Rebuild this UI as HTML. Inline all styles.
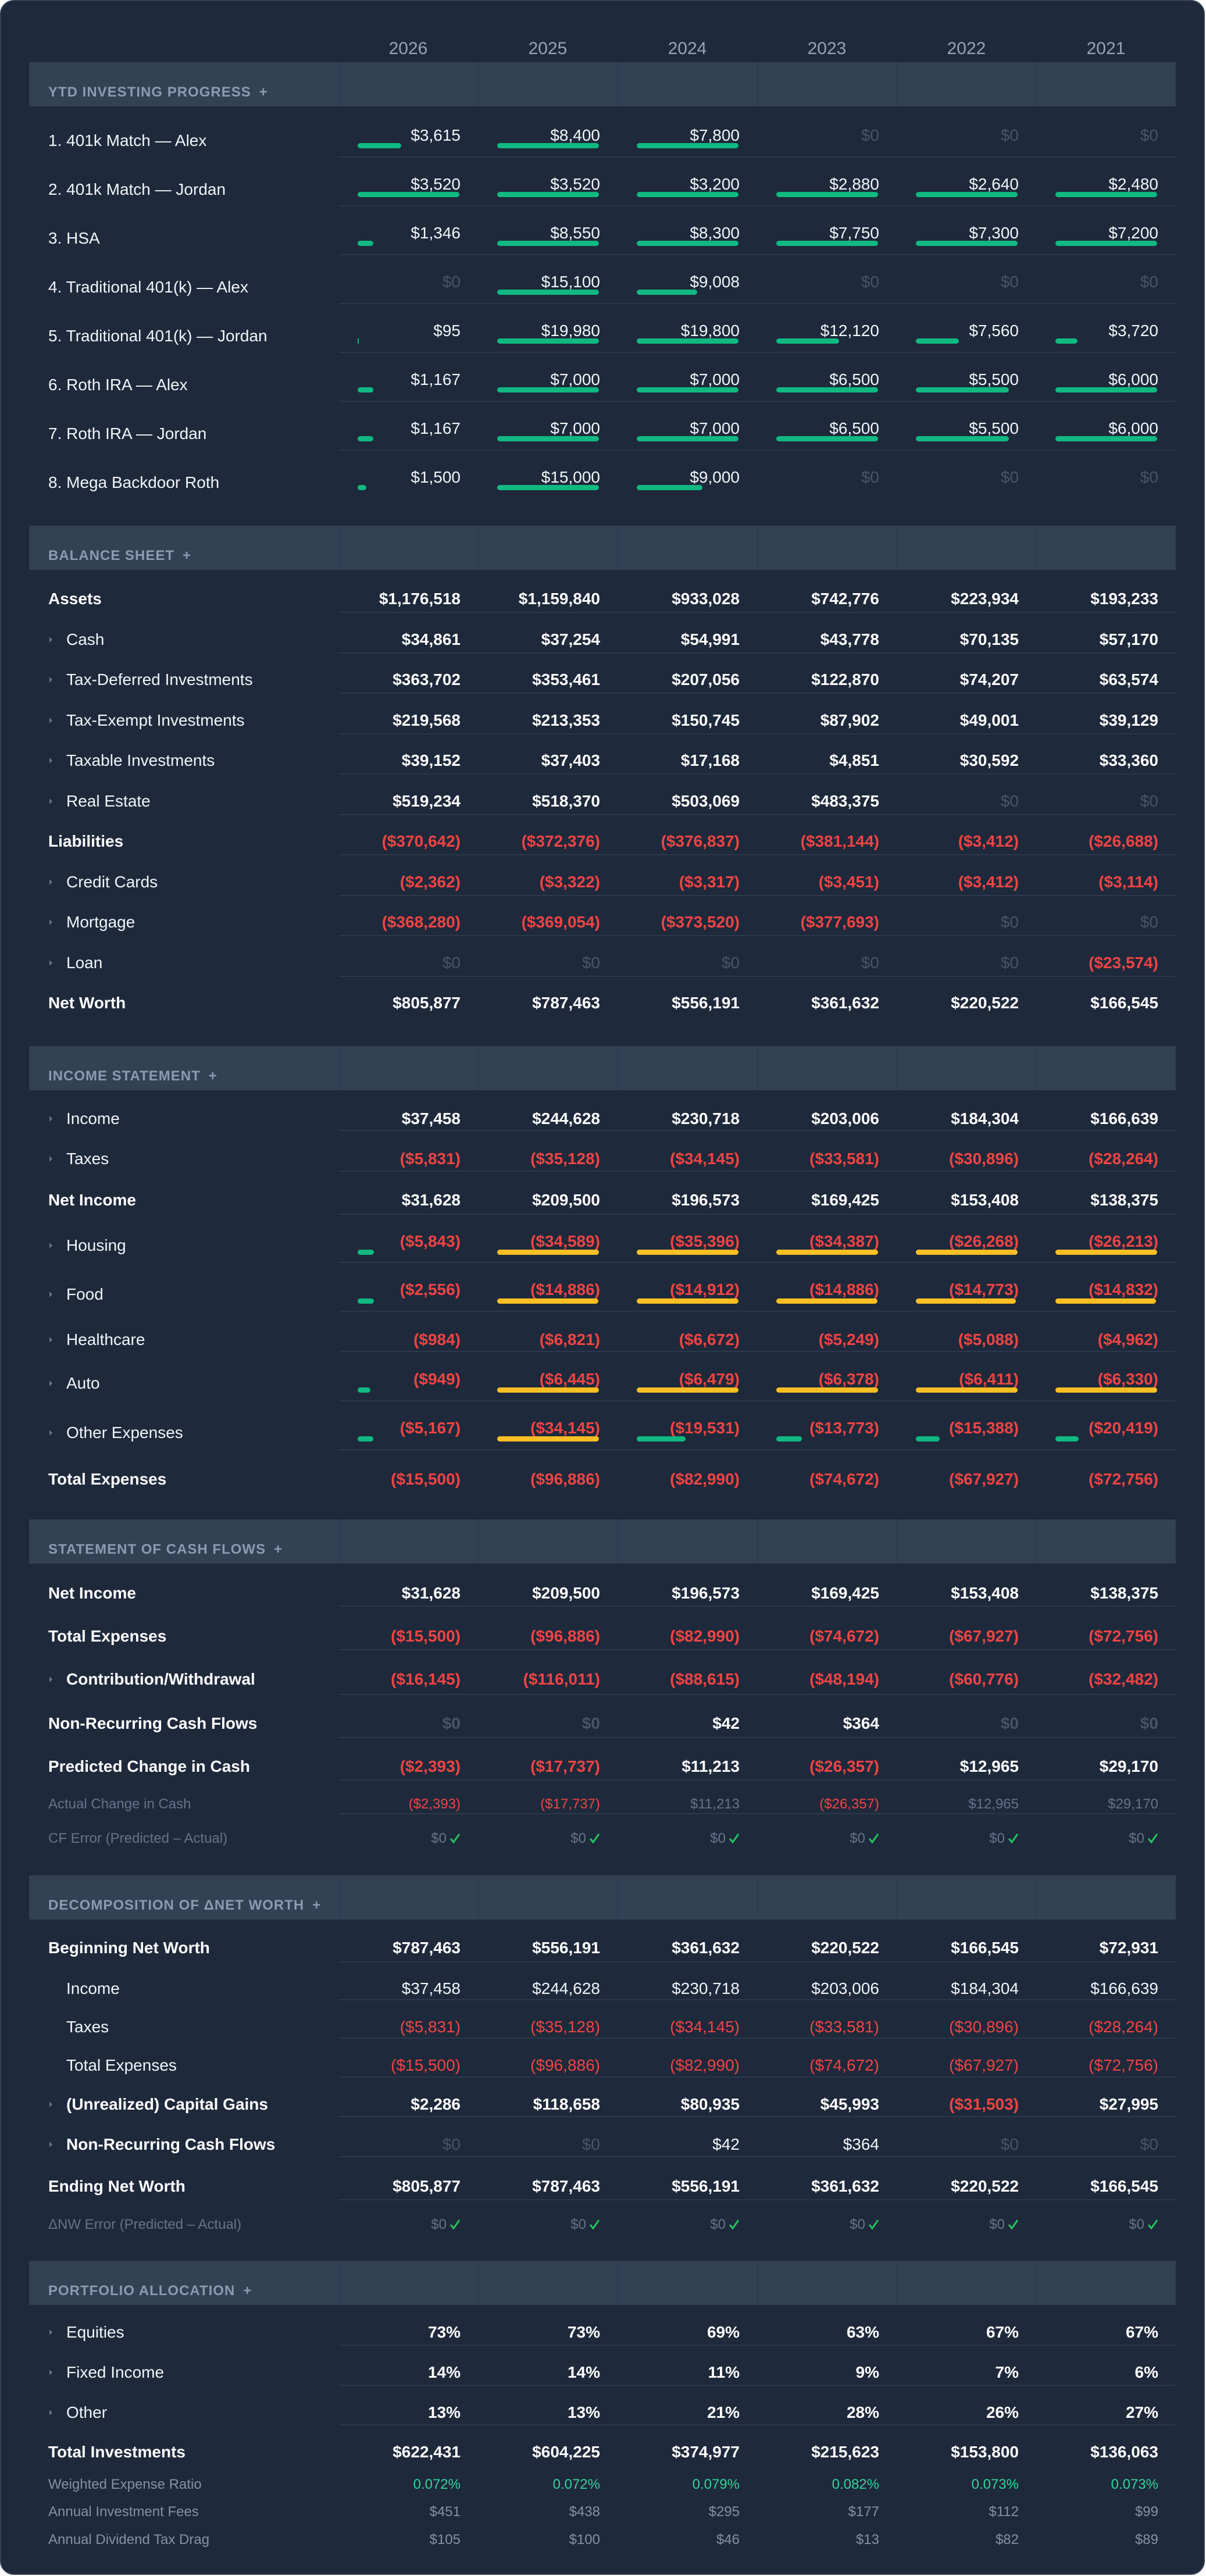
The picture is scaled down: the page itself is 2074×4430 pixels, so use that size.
<!DOCTYPE html>
<html><head><meta charset="utf-8">
<style>
html,body{margin:0;padding:0}
body{width:2074px;height:4430px;position:relative;overflow:hidden;background:#ffffff;font-family:"Liberation Sans","DejaVu Sans",sans-serif}
.card{position:absolute;left:0;top:0;width:2068px;height:4424px;background:#1e293b;border:2px solid #334155;border-radius:24px}
.r{position:absolute;left:0;width:2074px;height:40px;line-height:40px;font-size:28px;color:#f1f5f9;white-space:nowrap}
.r span{position:absolute;top:0}
.l{left:83px}
.li{left:114px}
.ch{position:absolute;left:84px;top:14px}
.v{width:210px;text-align:right}
.c1{left:582px}.c2{left:822px}.c3{left:1062px}.c4{left:1302px}.c5{left:1542px}.c6{left:1782px}
.b{font-weight:700;color:#ffffff}
.red{color:#ef4444}
.dim{color:#475569}
.sm{font-size:24px}
.gl{color:#64748b}
.gl2{color:#8391a7}
.grn{color:#34d399}
.yr{width:240px;text-align:center;font-size:30px;color:#94a3b8}
.bar{position:absolute;height:9px;border-radius:5px}
.g{background:#10b981}
.o{background:#fbbf24}
.sep{position:absolute;left:582px;width:1440px;height:2px;background:#2c384b}
.band{position:absolute;left:50px;width:1972px;height:76px;background:#334155}
.bd{position:absolute;top:0;width:2px;height:76px;background:#2e3b50}
.tt{position:absolute;left:83px;height:40px;line-height:40px;font-size:24px;font-weight:700;letter-spacing:1px;color:#8d9bb0;white-space:nowrap}
.tt i{font-style:normal;margin-left:14px}
.ck{vertical-align:middle;margin-left:4px;position:relative;top:-2px}
</style></head><body>
<div class="card"></div>

<!-- Year header -->
<div class="r" style="top:64px"><span class="yr c1">2026</span><span class="yr c2">2025</span><span class="yr c3">2024</span><span class="yr c4">2023</span><span class="yr c5">2022</span><span class="yr c6">2021</span></div>

<!-- ============ YTD INVESTING PROGRESS ============ -->
<div class="band" style="top:107px"><div class="bd" style="left:532px"></div><div class="bd" style="left:772px"></div><div class="bd" style="left:1012px"></div><div class="bd" style="left:1252px"></div><div class="bd" style="left:1492px"></div><div class="bd" style="left:1732px"></div></div>
<div class="tt" style="top:139px">YTD INVESTING PROGRESS<i>+</i></div>

<div class="r" style="top:222px"><span class="l">1. 401k Match — Alex</span></div>
<div class="r" style="top:213px"><span class="v c1">$3,615</span><span class="v c2">$8,400</span><span class="v c3">$7,800</span><span class="v c4 dim">$0</span><span class="v c5 dim">$0</span><span class="v c6 dim">$0</span></div>
<div class="bar g" style="top:246px;left:615px;width:75px"></div><div class="bar g" style="top:246px;left:855px;width:175px"></div><div class="bar g" style="top:246px;left:1095px;width:175px"></div>
<div class="sep" style="top:269px"></div>

<div class="r" style="top:306px"><span class="l">2. 401k Match — Jordan</span></div>
<div class="r" style="top:297px"><span class="v c1">$3,520</span><span class="v c2">$3,520</span><span class="v c3">$3,200</span><span class="v c4">$2,880</span><span class="v c5">$2,640</span><span class="v c6">$2,480</span></div>
<div class="bar g" style="top:330px;left:615px;width:175px"></div><div class="bar g" style="top:330px;left:855px;width:175px"></div><div class="bar g" style="top:330px;left:1095px;width:175px"></div><div class="bar g" style="top:330px;left:1335px;width:175px"></div><div class="bar g" style="top:330px;left:1575px;width:175px"></div><div class="bar g" style="top:330px;left:1815px;width:175px"></div>
<div class="sep" style="top:353px"></div>

<div class="r" style="top:390px"><span class="l">3. HSA</span></div>
<div class="r" style="top:381px"><span class="v c1">$1,346</span><span class="v c2">$8,550</span><span class="v c3">$8,300</span><span class="v c4">$7,750</span><span class="v c5">$7,300</span><span class="v c6">$7,200</span></div>
<div class="bar g" style="top:414px;left:615px;width:27px"></div><div class="bar g" style="top:414px;left:855px;width:175px"></div><div class="bar g" style="top:414px;left:1095px;width:175px"></div><div class="bar g" style="top:414px;left:1335px;width:175px"></div><div class="bar g" style="top:414px;left:1575px;width:175px"></div><div class="bar g" style="top:414px;left:1815px;width:175px"></div>
<div class="sep" style="top:437px"></div>

<div class="r" style="top:474px"><span class="l">4. Traditional 401(k) — Alex</span></div>
<div class="r" style="top:465px"><span class="v c1 dim">$0</span><span class="v c2">$15,100</span><span class="v c3">$9,008</span><span class="v c4 dim">$0</span><span class="v c5 dim">$0</span><span class="v c6 dim">$0</span></div>
<div class="bar g" style="top:498px;left:855px;width:175px"></div><div class="bar g" style="top:498px;left:1095px;width:104px"></div>
<div class="sep" style="top:521px"></div>

<div class="r" style="top:558px"><span class="l">5. Traditional 401(k) — Jordan</span></div>
<div class="r" style="top:549px"><span class="v c1">$95</span><span class="v c2">$19,980</span><span class="v c3">$19,800</span><span class="v c4">$12,120</span><span class="v c5">$7,560</span><span class="v c6">$3,720</span></div>
<div class="bar g" style="top:582px;left:615px;width:2px;border-radius:1px"></div><div class="bar g" style="top:582px;left:855px;width:175px"></div><div class="bar g" style="top:582px;left:1095px;width:175px"></div><div class="bar g" style="top:582px;left:1335px;width:108px"></div><div class="bar g" style="top:582px;left:1575px;width:74px"></div><div class="bar g" style="top:582px;left:1815px;width:38px"></div>
<div class="sep" style="top:605px"></div>

<div class="r" style="top:642px"><span class="l">6. Roth IRA — Alex</span></div>
<div class="r" style="top:633px"><span class="v c1">$1,167</span><span class="v c2">$7,000</span><span class="v c3">$7,000</span><span class="v c4">$6,500</span><span class="v c5">$5,500</span><span class="v c6">$6,000</span></div>
<div class="bar g" style="top:666px;left:615px;width:27px"></div><div class="bar g" style="top:666px;left:855px;width:175px"></div><div class="bar g" style="top:666px;left:1095px;width:175px"></div><div class="bar g" style="top:666px;left:1335px;width:175px"></div><div class="bar g" style="top:666px;left:1575px;width:160px"></div><div class="bar g" style="top:666px;left:1815px;width:175px"></div>
<div class="sep" style="top:689px"></div>

<div class="r" style="top:726px"><span class="l">7. Roth IRA — Jordan</span></div>
<div class="r" style="top:717px"><span class="v c1">$1,167</span><span class="v c2">$7,000</span><span class="v c3">$7,000</span><span class="v c4">$6,500</span><span class="v c5">$5,500</span><span class="v c6">$6,000</span></div>
<div class="bar g" style="top:750px;left:615px;width:27px"></div><div class="bar g" style="top:750px;left:855px;width:175px"></div><div class="bar g" style="top:750px;left:1095px;width:175px"></div><div class="bar g" style="top:750px;left:1335px;width:175px"></div><div class="bar g" style="top:750px;left:1575px;width:160px"></div><div class="bar g" style="top:750px;left:1815px;width:175px"></div>
<div class="sep" style="top:773px"></div>

<div class="r" style="top:810px"><span class="l">8. Mega Backdoor Roth</span></div>
<div class="r" style="top:801px"><span class="v c1">$1,500</span><span class="v c2">$15,000</span><span class="v c3">$9,000</span><span class="v c4 dim">$0</span><span class="v c5 dim">$0</span><span class="v c6 dim">$0</span></div>
<div class="bar g" style="top:834px;left:615px;width:15px"></div><div class="bar g" style="top:834px;left:855px;width:175px"></div><div class="bar g" style="top:834px;left:1095px;width:113px"></div>

<!-- ============ BALANCE SHEET ============ -->
<div class="band" style="top:904px"><div class="bd" style="left:532px"></div><div class="bd" style="left:772px"></div><div class="bd" style="left:1012px"></div><div class="bd" style="left:1252px"></div><div class="bd" style="left:1492px"></div><div class="bd" style="left:1732px"></div></div>
<div class="tt" style="top:936px">BALANCE SHEET<i>+</i></div>

<div class="r b" style="top:1010px"><span class="l">Assets</span><span class="v c1">$1,176,518</span><span class="v c2">$1,159,840</span><span class="v c3">$933,028</span><span class="v c4">$742,776</span><span class="v c5">$223,934</span><span class="v c6">$193,233</span></div>
<div class="sep" style="top:1052px"></div>
<div class="r" style="top:1080px"><svg class="ch" width="7" height="12" viewBox="0 0 7 12"><polygon points="1,1 6,6 1,11" fill="#64748b"/></svg><span class="li">Cash</span><span class="v c1 b">$34,861</span><span class="v c2 b">$37,254</span><span class="v c3 b">$54,991</span><span class="v c4 b">$43,778</span><span class="v c5 b">$70,135</span><span class="v c6 b">$57,170</span></div>
<div class="sep" style="top:1122px"></div>
<div class="r" style="top:1149px"><svg class="ch" width="7" height="12" viewBox="0 0 7 12"><polygon points="1,1 6,6 1,11" fill="#64748b"/></svg><span class="li">Tax-Deferred Investments</span><span class="v c1 b">$363,702</span><span class="v c2 b">$353,461</span><span class="v c3 b">$207,056</span><span class="v c4 b">$122,870</span><span class="v c5 b">$74,207</span><span class="v c6 b">$63,574</span></div>
<div class="sep" style="top:1191px"></div>
<div class="r" style="top:1219px"><svg class="ch" width="7" height="12" viewBox="0 0 7 12"><polygon points="1,1 6,6 1,11" fill="#64748b"/></svg><span class="li">Tax-Exempt Investments</span><span class="v c1 b">$219,568</span><span class="v c2 b">$213,353</span><span class="v c3 b">$150,745</span><span class="v c4 b">$87,902</span><span class="v c5 b">$49,001</span><span class="v c6 b">$39,129</span></div>
<div class="sep" style="top:1261px"></div>
<div class="r" style="top:1288px"><svg class="ch" width="7" height="12" viewBox="0 0 7 12"><polygon points="1,1 6,6 1,11" fill="#64748b"/></svg><span class="li">Taxable Investments</span><span class="v c1 b">$39,152</span><span class="v c2 b">$37,403</span><span class="v c3 b">$17,168</span><span class="v c4 b">$4,851</span><span class="v c5 b">$30,592</span><span class="v c6 b">$33,360</span></div>
<div class="sep" style="top:1330px"></div>
<div class="r" style="top:1358px"><svg class="ch" width="7" height="12" viewBox="0 0 7 12"><polygon points="1,1 6,6 1,11" fill="#64748b"/></svg><span class="li">Real Estate</span><span class="v c1 b">$519,234</span><span class="v c2 b">$518,370</span><span class="v c3 b">$503,069</span><span class="v c4 b">$483,375</span><span class="v c5 dim">$0</span><span class="v c6 dim">$0</span></div>
<div class="sep" style="top:1400px"></div>
<div class="r" style="top:1427px"><span class="l b">Liabilities</span><span class="v c1 b red">($370,642)</span><span class="v c2 b red">($372,376)</span><span class="v c3 b red">($376,837)</span><span class="v c4 b red">($381,144)</span><span class="v c5 b red">($3,412)</span><span class="v c6 b red">($26,688)</span></div>
<div class="sep" style="top:1469px"></div>
<div class="r" style="top:1497px"><svg class="ch" width="7" height="12" viewBox="0 0 7 12"><polygon points="1,1 6,6 1,11" fill="#64748b"/></svg><span class="li">Credit Cards</span><span class="v c1 b red">($2,362)</span><span class="v c2 b red">($3,322)</span><span class="v c3 b red">($3,317)</span><span class="v c4 b red">($3,451)</span><span class="v c5 b red">($3,412)</span><span class="v c6 b red">($3,114)</span></div>
<div class="sep" style="top:1539px"></div>
<div class="r" style="top:1566px"><svg class="ch" width="7" height="12" viewBox="0 0 7 12"><polygon points="1,1 6,6 1,11" fill="#64748b"/></svg><span class="li">Mortgage</span><span class="v c1 b red">($368,280)</span><span class="v c2 b red">($369,054)</span><span class="v c3 b red">($373,520)</span><span class="v c4 b red">($377,693)</span><span class="v c5 dim">$0</span><span class="v c6 dim">$0</span></div>
<div class="sep" style="top:1608px"></div>
<div class="r" style="top:1636px"><svg class="ch" width="7" height="12" viewBox="0 0 7 12"><polygon points="1,1 6,6 1,11" fill="#64748b"/></svg><span class="li">Loan</span><span class="v c1 dim">$0</span><span class="v c2 dim">$0</span><span class="v c3 dim">$0</span><span class="v c4 dim">$0</span><span class="v c5 dim">$0</span><span class="v c6 b red">($23,574)</span></div>
<div class="sep" style="top:1678px"></div>
<div class="r b" style="top:1705px"><span class="l">Net Worth</span><span class="v c1">$805,877</span><span class="v c2">$787,463</span><span class="v c3">$556,191</span><span class="v c4">$361,632</span><span class="v c5">$220,522</span><span class="v c6">$166,545</span></div>

<!-- ============ INCOME STATEMENT ============ -->
<div class="band" style="top:1799px"><div class="bd" style="left:532px"></div><div class="bd" style="left:772px"></div><div class="bd" style="left:1012px"></div><div class="bd" style="left:1252px"></div><div class="bd" style="left:1492px"></div><div class="bd" style="left:1732px"></div></div>
<div class="tt" style="top:1831px">INCOME STATEMENT<i>+</i></div>

<div class="r" style="top:1904px"><svg class="ch" width="7" height="12" viewBox="0 0 7 12"><polygon points="1,1 6,6 1,11" fill="#64748b"/></svg><span class="li">Income</span><span class="v c1 b">$37,458</span><span class="v c2 b">$244,628</span><span class="v c3 b">$230,718</span><span class="v c4 b">$203,006</span><span class="v c5 b">$184,304</span><span class="v c6 b">$166,639</span></div>
<div class="sep" style="top:1943px"></div>
<div class="r" style="top:1973px"><svg class="ch" width="7" height="12" viewBox="0 0 7 12"><polygon points="1,1 6,6 1,11" fill="#64748b"/></svg><span class="li">Taxes</span><span class="v c1 b red">($5,831)</span><span class="v c2 b red">($35,128)</span><span class="v c3 b red">($34,145)</span><span class="v c4 b red">($33,581)</span><span class="v c5 b red">($30,896)</span><span class="v c6 b red">($28,264)</span></div>
<div class="sep" style="top:2013px"></div>
<div class="r b" style="top:2044px"><span class="l">Net Income</span><span class="v c1">$31,628</span><span class="v c2">$209,500</span><span class="v c3">$196,573</span><span class="v c4">$169,425</span><span class="v c5">$153,408</span><span class="v c6">$138,375</span></div>
<div class="sep" style="top:2087px"></div>

<div class="r" style="top:2122px"><svg class="ch" width="7" height="12" viewBox="0 0 7 12"><polygon points="1,1 6,6 1,11" fill="#64748b"/></svg><span class="li">Housing</span></div>
<div class="r b red" style="top:2115px"><span class="v c1">($5,843)</span><span class="v c2">($34,589)</span><span class="v c3">($35,396)</span><span class="v c4">($34,387)</span><span class="v c5">($26,268)</span><span class="v c6">($26,213)</span></div>
<div class="bar g" style="top:2149px;left:615px;width:28px"></div><div class="bar o" style="top:2149px;left:855px;width:175px"></div><div class="bar o" style="top:2149px;left:1095px;width:175px"></div><div class="bar o" style="top:2149px;left:1335px;width:175px"></div><div class="bar o" style="top:2149px;left:1575px;width:175px"></div><div class="bar o" style="top:2149px;left:1815px;width:175px"></div>
<div class="sep" style="top:2170px"></div>

<div class="r" style="top:2206px"><svg class="ch" width="7" height="12" viewBox="0 0 7 12"><polygon points="1,1 6,6 1,11" fill="#64748b"/></svg><span class="li">Food</span></div>
<div class="r b red" style="top:2198px"><span class="v c1">($2,556)</span><span class="v c2">($14,886)</span><span class="v c3">($14,912)</span><span class="v c4">($14,886)</span><span class="v c5">($14,773)</span><span class="v c6">($14,832)</span></div>
<div class="bar g" style="top:2233px;left:615px;width:28px"></div><div class="bar o" style="top:2233px;left:855px;width:174px"></div><div class="bar o" style="top:2233px;left:1095px;width:175px"></div><div class="bar o" style="top:2233px;left:1335px;width:174px"></div><div class="bar o" style="top:2233px;left:1575px;width:172px"></div><div class="bar o" style="top:2233px;left:1815px;width:173px"></div>
<div class="sep" style="top:2254px"></div>

<div class="r" style="top:2284px"><svg class="ch" width="7" height="12" viewBox="0 0 7 12"><polygon points="1,1 6,6 1,11" fill="#64748b"/></svg><span class="li">Healthcare</span><span class="v c1 b red">($984)</span><span class="v c2 b red">($6,821)</span><span class="v c3 b red">($6,672)</span><span class="v c4 b red">($5,249)</span><span class="v c5 b red">($5,088)</span><span class="v c6 b red">($4,962)</span></div>
<div class="sep" style="top:2323px"></div>

<div class="r" style="top:2359px"><svg class="ch" width="7" height="12" viewBox="0 0 7 12"><polygon points="1,1 6,6 1,11" fill="#64748b"/></svg><span class="li">Auto</span></div>
<div class="r b red" style="top:2352px"><span class="v c1">($949)</span><span class="v c2">($6,445)</span><span class="v c3">($6,479)</span><span class="v c4">($6,378)</span><span class="v c5">($6,411)</span><span class="v c6">($6,330)</span></div>
<div class="bar g" style="top:2386px;left:615px;width:22px"></div><div class="bar o" style="top:2386px;left:855px;width:175px"></div><div class="bar o" style="top:2386px;left:1095px;width:175px"></div><div class="bar o" style="top:2386px;left:1335px;width:175px"></div><div class="bar o" style="top:2386px;left:1575px;width:175px"></div><div class="bar o" style="top:2386px;left:1815px;width:175px"></div>
<div class="sep" style="top:2408px"></div>

<div class="r" style="top:2444px"><svg class="ch" width="7" height="12" viewBox="0 0 7 12"><polygon points="1,1 6,6 1,11" fill="#64748b"/></svg><span class="li">Other Expenses</span></div>
<div class="r b red" style="top:2436px"><span class="v c1">($5,167)</span><span class="v c2">($34,145)</span><span class="v c3">($19,531)</span><span class="v c4">($13,773)</span><span class="v c5">($15,388)</span><span class="v c6">($20,419)</span></div>
<div class="bar g" style="top:2470px;left:615px;width:27px"></div><div class="bar o" style="top:2470px;left:855px;width:175px"></div><div class="bar g" style="top:2470px;left:1095px;width:84px"></div><div class="bar g" style="top:2470px;left:1335px;width:44px"></div><div class="bar g" style="top:2470px;left:1575px;width:41px"></div><div class="bar g" style="top:2470px;left:1815px;width:40px"></div>
<div class="sep" style="top:2492px"></div>

<div class="r b" style="top:2524px"><span class="l">Total Expenses</span><span class="v c1 red">($15,500)</span><span class="v c2 red">($96,886)</span><span class="v c3 red">($82,990)</span><span class="v c4 red">($74,672)</span><span class="v c5 red">($67,927)</span><span class="v c6 red">($72,756)</span></div>

<!-- ============ STATEMENT OF CASH FLOWS ============ -->
<div class="band" style="top:2613px"><div class="bd" style="left:532px"></div><div class="bd" style="left:772px"></div><div class="bd" style="left:1012px"></div><div class="bd" style="left:1252px"></div><div class="bd" style="left:1492px"></div><div class="bd" style="left:1732px"></div></div>
<div class="tt" style="top:2645px">STATEMENT OF CASH FLOWS<i>+</i></div>

<div class="r b" style="top:2720px"><span class="l">Net Income</span><span class="v c1">$31,628</span><span class="v c2">$209,500</span><span class="v c3">$196,573</span><span class="v c4">$169,425</span><span class="v c5">$153,408</span><span class="v c6">$138,375</span></div>
<div class="sep" style="top:2761px"></div>
<div class="r b" style="top:2794px"><span class="l">Total Expenses</span><span class="v c1 red">($15,500)</span><span class="v c2 red">($96,886)</span><span class="v c3 red">($82,990)</span><span class="v c4 red">($74,672)</span><span class="v c5 red">($67,927)</span><span class="v c6 red">($72,756)</span></div>
<div class="sep" style="top:2836px"></div>
<div class="r b" style="top:2868px"><svg class="ch" width="7" height="12" viewBox="0 0 7 12"><polygon points="1,1 6,6 1,11" fill="#64748b"/></svg><span class="li">Contribution/Withdrawal</span><span class="v c1 red">($16,145)</span><span class="v c2 red">($116,011)</span><span class="v c3 red">($88,615)</span><span class="v c4 red">($48,194)</span><span class="v c5 red">($60,776)</span><span class="v c6 red">($32,482)</span></div>
<div class="sep" style="top:2913px"></div>
<div class="r b" style="top:2944px"><span class="l">Non-Recurring Cash Flows</span><span class="v c1 dim">$0</span><span class="v c2 dim">$0</span><span class="v c3">$42</span><span class="v c4">$364</span><span class="v c5 dim">$0</span><span class="v c6 dim">$0</span></div>
<div class="sep" style="top:2987px"></div>
<div class="r b" style="top:3018px"><span class="l">Predicted Change in Cash</span><span class="v c1 red">($2,393)</span><span class="v c2 red">($17,737)</span><span class="v c3">$11,213</span><span class="v c4 red">($26,357)</span><span class="v c5">$12,965</span><span class="v c6">$29,170</span></div>
<div class="sep" style="top:3060px"></div>
<div class="r sm" style="top:3083px"><span class="l gl">Actual Change in Cash</span><span class="v c1 red">($2,393)</span><span class="v c2 red">($17,737)</span><span class="v c3 gl">$11,213</span><span class="v c4 red">($26,357)</span><span class="v c5 gl">$12,965</span><span class="v c6 gl">$29,170</span></div>
<div class="sep" style="top:3118px"></div>
<div class="r sm" style="top:3142px"><span class="l gl">CF Error (Predicted – Actual)</span>
<span class="v c1 gl">$0<svg class="ck" width="20" height="20" viewBox="0 0 20 20"><polyline points="3,11 8,17 18,3" stroke="#22c55e" stroke-width="3" fill="none"/></svg></span>
<span class="v c2 gl">$0<svg class="ck" width="20" height="20" viewBox="0 0 20 20"><polyline points="3,11 8,17 18,3" stroke="#22c55e" stroke-width="3" fill="none"/></svg></span>
<span class="v c3 gl">$0<svg class="ck" width="20" height="20" viewBox="0 0 20 20"><polyline points="3,11 8,17 18,3" stroke="#22c55e" stroke-width="3" fill="none"/></svg></span>
<span class="v c4 gl">$0<svg class="ck" width="20" height="20" viewBox="0 0 20 20"><polyline points="3,11 8,17 18,3" stroke="#22c55e" stroke-width="3" fill="none"/></svg></span>
<span class="v c5 gl">$0<svg class="ck" width="20" height="20" viewBox="0 0 20 20"><polyline points="3,11 8,17 18,3" stroke="#22c55e" stroke-width="3" fill="none"/></svg></span>
<span class="v c6 gl">$0<svg class="ck" width="20" height="20" viewBox="0 0 20 20"><polyline points="3,11 8,17 18,3" stroke="#22c55e" stroke-width="3" fill="none"/></svg></span></div>

<!-- ============ DECOMPOSITION ============ -->
<div class="band" style="top:3225px"><div class="bd" style="left:532px"></div><div class="bd" style="left:772px"></div><div class="bd" style="left:1012px"></div><div class="bd" style="left:1252px"></div><div class="bd" style="left:1492px"></div><div class="bd" style="left:1732px"></div></div>
<div class="tt" style="top:3257px">DECOMPOSITION OF ΔNET WORTH<i>+</i></div>

<div class="r b" style="top:3330px"><span class="l">Beginning Net Worth</span><span class="v c1">$787,463</span><span class="v c2">$556,191</span><span class="v c3">$361,632</span><span class="v c4">$220,522</span><span class="v c5">$166,545</span><span class="v c6">$72,931</span></div>
<div class="sep" style="top:3373px"></div>
<div class="r" style="top:3400px"><span class="li">Income</span><span class="v c1">$37,458</span><span class="v c2">$244,628</span><span class="v c3">$230,718</span><span class="v c4">$203,006</span><span class="v c5">$184,304</span><span class="v c6">$166,639</span></div>
<div class="sep" style="top:3438px"></div>
<div class="r" style="top:3466px"><span class="li">Taxes</span><span class="v c1 red">($5,831)</span><span class="v c2 red">($35,128)</span><span class="v c3 red">($34,145)</span><span class="v c4 red">($33,581)</span><span class="v c5 red">($30,896)</span><span class="v c6 red">($28,264)</span></div>
<div class="sep" style="top:3504px"></div>
<div class="r" style="top:3532px"><span class="li">Total Expenses</span><span class="v c1 red">($15,500)</span><span class="v c2 red">($96,886)</span><span class="v c3 red">($82,990)</span><span class="v c4 red">($74,672)</span><span class="v c5 red">($67,927)</span><span class="v c6 red">($72,756)</span></div>
<div class="sep" style="top:3571px"></div>
<div class="r b" style="top:3599px"><svg class="ch" width="7" height="12" viewBox="0 0 7 12"><polygon points="1,1 6,6 1,11" fill="#64748b"/></svg><span class="li">(Unrealized) Capital Gains</span><span class="v c1">$2,286</span><span class="v c2">$118,658</span><span class="v c3">$80,935</span><span class="v c4">$45,993</span><span class="v c5 red">($31,503)</span><span class="v c6">$27,995</span></div>
<div class="sep" style="top:3639px"></div>
<div class="r" style="top:3668px"><svg class="ch" width="7" height="12" viewBox="0 0 7 12"><polygon points="1,1 6,6 1,11" fill="#64748b"/></svg><span class="li b">Non-Recurring Cash Flows</span><span class="v c1 dim">$0</span><span class="v c2 dim">$0</span><span class="v c3">$42</span><span class="v c4">$364</span><span class="v c5 dim">$0</span><span class="v c6 dim">$0</span></div>
<div class="sep" style="top:3708px"></div>
<div class="r b" style="top:3740px"><span class="l">Ending Net Worth</span><span class="v c1">$805,877</span><span class="v c2">$787,463</span><span class="v c3">$556,191</span><span class="v c4">$361,632</span><span class="v c5">$220,522</span><span class="v c6">$166,545</span></div>
<div class="sep" style="top:3782px"></div>
<div class="r sm" style="top:3806px"><span class="l gl">ΔNW Error (Predicted – Actual)</span>
<span class="v c1 gl">$0<svg class="ck" width="20" height="20" viewBox="0 0 20 20"><polyline points="3,11 8,17 18,3" stroke="#22c55e" stroke-width="3" fill="none"/></svg></span>
<span class="v c2 gl">$0<svg class="ck" width="20" height="20" viewBox="0 0 20 20"><polyline points="3,11 8,17 18,3" stroke="#22c55e" stroke-width="3" fill="none"/></svg></span>
<span class="v c3 gl">$0<svg class="ck" width="20" height="20" viewBox="0 0 20 20"><polyline points="3,11 8,17 18,3" stroke="#22c55e" stroke-width="3" fill="none"/></svg></span>
<span class="v c4 gl">$0<svg class="ck" width="20" height="20" viewBox="0 0 20 20"><polyline points="3,11 8,17 18,3" stroke="#22c55e" stroke-width="3" fill="none"/></svg></span>
<span class="v c5 gl">$0<svg class="ck" width="20" height="20" viewBox="0 0 20 20"><polyline points="3,11 8,17 18,3" stroke="#22c55e" stroke-width="3" fill="none"/></svg></span>
<span class="v c6 gl">$0<svg class="ck" width="20" height="20" viewBox="0 0 20 20"><polyline points="3,11 8,17 18,3" stroke="#22c55e" stroke-width="3" fill="none"/></svg></span></div>

<!-- ============ PORTFOLIO ALLOCATION ============ -->
<div class="band" style="top:3888px"><div class="bd" style="left:532px"></div><div class="bd" style="left:772px"></div><div class="bd" style="left:1012px"></div><div class="bd" style="left:1252px"></div><div class="bd" style="left:1492px"></div><div class="bd" style="left:1732px"></div></div>
<div class="tt" style="top:3920px">PORTFOLIO ALLOCATION<i>+</i></div>

<div class="r" style="top:3991px"><svg class="ch" width="7" height="12" viewBox="0 0 7 12"><polygon points="1,1 6,6 1,11" fill="#64748b"/></svg><span class="li">Equities</span><span class="v c1 b">73%</span><span class="v c2 b">73%</span><span class="v c3 b">69%</span><span class="v c4 b">63%</span><span class="v c5 b">67%</span><span class="v c6 b">67%</span></div>
<div class="sep" style="top:4032px"></div>
<div class="r" style="top:4060px"><svg class="ch" width="7" height="12" viewBox="0 0 7 12"><polygon points="1,1 6,6 1,11" fill="#64748b"/></svg><span class="li">Fixed Income</span><span class="v c1 b">14%</span><span class="v c2 b">14%</span><span class="v c3 b">11%</span><span class="v c4 b">9%</span><span class="v c5 b">7%</span><span class="v c6 b">6%</span></div>
<div class="sep" style="top:4101px"></div>
<div class="r" style="top:4129px"><svg class="ch" width="7" height="12" viewBox="0 0 7 12"><polygon points="1,1 6,6 1,11" fill="#64748b"/></svg><span class="li">Other</span><span class="v c1 b">13%</span><span class="v c2 b">13%</span><span class="v c3 b">21%</span><span class="v c4 b">28%</span><span class="v c5 b">26%</span><span class="v c6 b">27%</span></div>
<div class="sep" style="top:4169px"></div>
<div class="r b" style="top:4197px"><span class="l">Total Investments</span><span class="v c1">$622,431</span><span class="v c2">$604,225</span><span class="v c3">$374,977</span><span class="v c4">$215,623</span><span class="v c5">$153,800</span><span class="v c6">$136,063</span></div>
<div class="r sm" style="top:4253px"><span class="l gl2">Weighted Expense Ratio</span><span class="v c1 grn">0.072%</span><span class="v c2 grn">0.072%</span><span class="v c3 grn">0.079%</span><span class="v c4 grn">0.082%</span><span class="v c5 grn">0.073%</span><span class="v c6 grn">0.073%</span></div>
<div class="r sm" style="top:4300px"><span class="l gl2">Annual Investment Fees</span><span class="v c1 gl2">$451</span><span class="v c2 gl2">$438</span><span class="v c3 gl2">$295</span><span class="v c4 gl2">$177</span><span class="v c5 gl2">$112</span><span class="v c6 gl2">$99</span></div>
<div class="r sm" style="top:4348px"><span class="l gl2">Annual Dividend Tax Drag</span><span class="v c1 gl2">$105</span><span class="v c2 gl2">$100</span><span class="v c3 gl2">$46</span><span class="v c4 gl2">$13</span><span class="v c5 gl2">$82</span><span class="v c6 gl2">$89</span></div>

</body></html>
